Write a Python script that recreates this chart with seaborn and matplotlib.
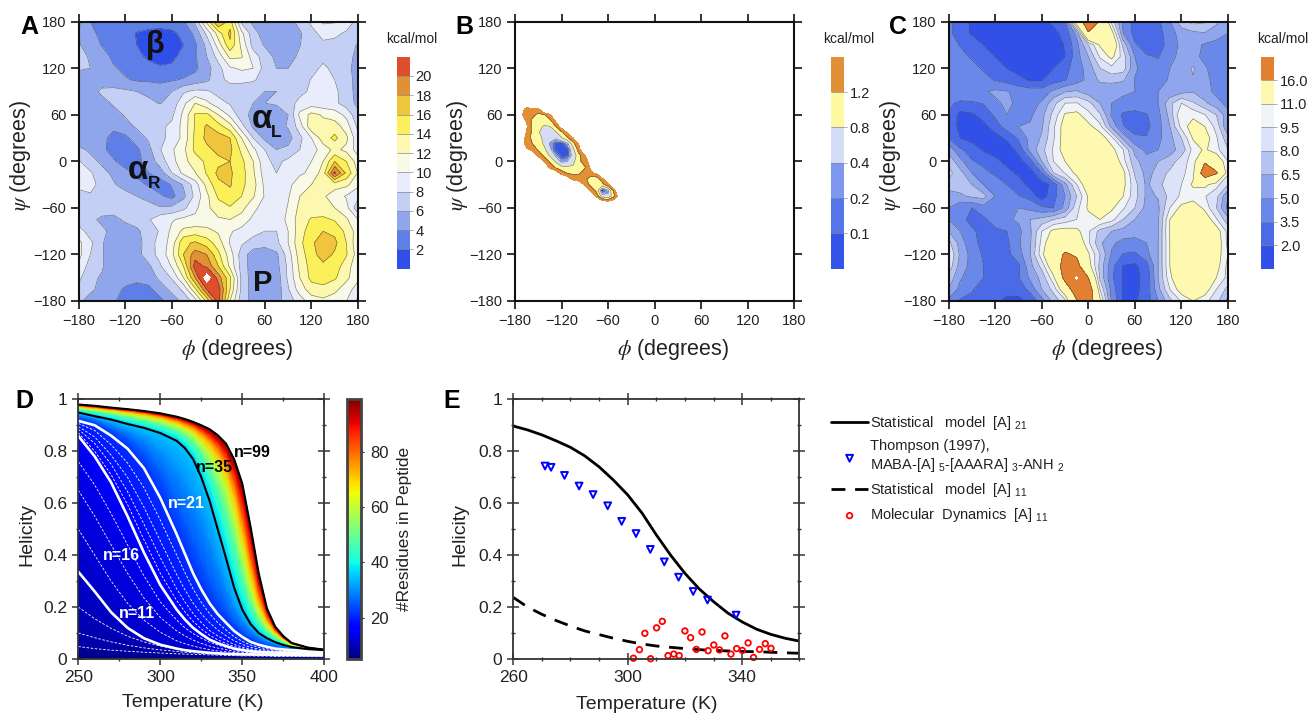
import numpy as np
import matplotlib
matplotlib.use("Agg")
import matplotlib.pyplot as plt
from matplotlib.cm import ScalarMappable
from matplotlib.colors import Normalize
from matplotlib.ticker import MultipleLocator
import seaborn as sns

# Ramachandran grids, every 15 degrees
phi_grid = list(range(-180, 181, 15))
psi_grid = list(range(180, -181, -15))

energy_a = [
    [6.5,4.0,3.7,3.5,3.3,3.0,3.0,3.0,3.3,3.8,6.5,12.5,18.5,15,7.5,5.5,4.8,4.5,5,6.8,8.2,10.4,10.2,8.8,7.5],
    [6,4.5,3.5,3,2.6,1.9,1.5,1.3,1.5,2.6,4.5,8.5,13,16.5,10.5,6.8,5,4.4,4.5,5.7,7.7,8.3,8.3,7.8,7.2],
    [6.2,5,3.9,3.2,2.6,2.0,1.5,1.2,1.3,2,3.7,6.5,11,15.5,11.5,7.2,5.8,4.4,4.4,5.9,7.5,7.8,7.6,7,5.8],
    [6.6,5.8,4.8,3.6,3,2.4,1.7,1.4,1.5,2.7,3.8,6,8.8,12.5,12.2,9,7,5.5,5,6.5,7.4,7.6,7.4,6.8,5.4],
    [6.2,6,4.9,4.2,3.6,3.1,2.6,2.2,2.4,2.9,3.6,5.2,7.3,9.7,10.3,10,7.2,6,6,7,7.5,8.3,7.6,6.6,5.2],
    [5.2,5.3,4.8,4.6,4.2,3.8,3.7,3.6,3.8,4.2,4.8,5.6,7.2,8.7,8.7,8.3,7,6.2,6.4,7.2,8.1,9,8,6.8,5.3],
    [4.8,5,6.5,6.7,6.4,6,5.6,5,6,7.7,8.5,8.3,7.4,6.4,6.3,6.3,6,6,6.6,7.4,8.4,9.5,8.5,6.8,5.4],
    [4.8,4.9,5.2,6.3,6.6,6.6,6.4,5.9,6.7,9.5,12,10.5,8.7,7.8,6.5,6,6,6.2,7,8.7,9,8.6,8.5,7,5.5],
    [4.4,4.6,4.9,5.2,6.2,6.8,7,7.4,7.6,10.5,14.2,14.5,12,9.5,6.8,5.4,5,5.1,6,10.5,12.6,11.8,11,9.5,6.5],
    [4.2,4.4,4.6,4.4,5.3,6.3,7,7.6,8.4,10.7,14.2,16.3,14.8,12.8,8.7,5.6,5,5.2,6.2,9,13.5,12.6,13,11,7.5],
    [4.2,4.5,4.5,3.4,3.5,5,6.3,7.5,8.6,10.6,14.5,16.5,17,16,12,8,5.5,4.6,5.2,7.5,10,13,14.5,12.5,8.5],
    [6.6,5.6,4.6,3,2.5,3.6,5.4,7.9,9.7,11.5,14.5,15.5,16.5,16.5,13.5,10.5,8,6,6.5,8,9,11,12.5,11.5,9],
    [8.2,6.7,5.6,4.3,3,3.5,4.7,7,9.2,11.5,12.8,14.5,15.5,16,14.5,12,8.5,7.5,8.5,8.8,10,12,16,14,11],
    [10.2,8.3,6.6,5.6,4.7,3.6,4,5,8,10.5,11.9,14.2,16.5,16.3,14.8,12.3,9,8,8.7,9.7,10.4,13,20.5,15.5,11.8],
    [8.5,8.5,7.5,6.2,5.2,4.6,3.8,3,4.2,6.2,9,12.6,15.5,16.2,14.5,12.8,9.5,8.4,9.5,11,12,12.5,12.8,12.5,10.5],
    [7.3,7.8,8,7.8,6.8,6,5.3,4.3,3.4,5.5,8.5,11.5,14.3,15.3,14,12.2,9.8,8.5,9.8,12,12.5,12.3,11,9.8,8.5],
    [6.9,6.9,7.2,7.3,8,7.5,6.8,6.2,6.5,7.5,9.5,11.5,13.2,13.8,12.6,10.6,9,8.3,10.2,12.5,13,12.5,12,10.7,6.5],
    [6.8,6.6,5.5,5.2,6.5,6.9,7.8,9.2,9.8,10.5,10.5,10.8,11.7,12,11.2,9.5,8.7,8.8,10.5,13,14.2,14.5,13.8,12.3,10],
    [9,7,6.5,5.3,4.6,5.6,7,8.2,10.5,12.5,13,12.6,11.7,10.2,9.4,8.7,8,8,10,13.2,15,16,15.5,13.5,11],
    [10.5,8.5,6.2,4.8,5.5,4.9,7.4,8.5,11,15.5,16.3,15,13,9.8,8.3,7.2,7,7.5,10,13.5,15.5,17.5,16.5,14,10.5],
    [10.7,8,6.3,4,4.3,5.2,7.2,8.6,11.5,16,19,18,14.5,11,7,5,4.5,5.6,9,13,15.2,17,15.7,14.2,11],
    [9.5,7.2,6.2,4.6,4.5,4.8,5.6,7.8,10.2,14,21,19.5,16,11.5,7.2,4.9,4.3,5.3,8.5,12.5,14.8,15.5,15,13,10.5],
    [8.5,6.4,5.8,4.8,4.6,4.6,4.9,6.5,8.2,12,18,24.5,19,14.5,7.5,4.9,4.2,4.8,8.4,12,14.6,14.8,14.3,12.5,10.5],
    [7.5,6.5,5.2,4.5,3.8,3.2,3.5,5,6.5,8.5,13.5,20,21,14,7.5,5,4.4,4.8,7.8,11,13,13.5,12.5,11,9],
    [6.5,5,4.5,4.2,3.3,3,3,3.5,5,6.5,9,14.5,21,12,6.8,5.5,5,5.2,7,9,11,11.5,11,10,7.5],
]

energy_c = [
    [4,2.3,1.9,1.6,1.6,1.6,1.6,1.6,1.7,2.3,3.4,13,19,15.5,9,4.6,2.9,2.7,3.2,4.8,7.5,8.5,8.2,6.7,5.2],
    [4,2.4,1.9,1.6,1.5,1.4,1.3,1.3,1.3,1.6,2.5,5.5,15.5,13,12,5,3,2.5,2.9,4.4,5.6,6.1,6.4,6,5],
    [4.2,3.4,2.6,2,1.7,1.4,1.2,1.2,1.2,1.4,2.1,4.5,8,11.2,14,7.5,3.7,2.7,2.6,4.3,5.3,5.6,4.8,4.3,4.1],
    [4.5,4,3.3,2.8,2,1.6,1.4,1.3,1.2,1.3,2,4.4,6.5,9.7,11.5,8.8,5,3.7,3.4,4.6,5.4,5.5,4.6,4.2,4.1],
    [4.6,4.5,4,3.3,2.7,2,1.6,1.5,1.6,2,3,4.3,5.6,8,9,8.7,5.3,4.1,4,5,5.6,6.7,5.2,4.3,4],
    [4.7,4.6,4.4,4,3.4,2.9,2.3,1.9,1.9,2.8,3.4,4.3,5.4,6.8,7,6.7,4.9,4.2,4.3,5.2,5.8,6.4,5.5,4.4,4],
    [4.6,4.3,4.6,4.8,5.3,5.1,4.6,4.2,4.2,5.3,6.4,6.7,5.7,5.5,5.3,5.2,5,4.8,5,5.5,6,6.4,5.6,4.6,4],
    [3.7,3.3,3.3,3.6,4.7,5.3,4.7,4.4,5.2,7.5,9.5,9.6,8.5,6.5,5,4.7,4.6,4.6,5,7.5,9.5,8.2,6.8,5.6,4.5],
    [3.4,1.5,1.8,2.6,3.8,5,4.9,4.7,6,8.5,11.2,11.5,10,8.2,4.8,3.2,2.9,3.4,4.6,7,11,10.5,9.6,8,5.5],
    [3.4,1.4,1.2,1.6,2.8,4.2,5,5.2,6.3,9.2,12,13.5,11.5,10,6,3.6,2.8,3.1,4.4,6.5,10,12,11,9,5],
    [3.5,2,1.4,1.2,1.4,2.3,3.7,5.5,6.7,9.3,12,13.5,13.5,12,10,6,3.8,3.6,4.6,6,8,11.2,12,9.7,7],
    [6,3.7,3,1.8,1.2,1.2,2.5,5.5,7.5,9.7,12,13.5,14,13,11.6,9.5,6,4.6,5,6,7,10,11.3,10,8],
    [7.5,5.5,3.6,3.2,2.5,1.5,1.4,3,6.5,9.5,11,13,14,14,13,10,7,5.6,6.5,7,9,10,15.5,13,9.5],
    [8.5,7,5,3.8,3.3,2.6,1.7,1.3,3.5,8,9.6,11.5,13.5,14.5,13.5,11.5,7.8,6,7,8.4,9,10.5,19,16.5,9.8],
    [7.5,7.3,6.5,5,4.2,3.5,2.8,1.5,1.3,2.5,6,9.4,12.5,14,13.5,11.5,8.5,6.2,7.5,9,9.5,11.3,11.5,10,8],
    [5.5,6.2,6.8,7,5,4,3.6,3,1.3,3,5,8,11.2,13,12,11,8.6,6.2,6.6,8.5,9.8,10,9.6,8.5,5],
    [5,3.8,3.5,4.4,4.8,5,5,4.6,3.8,3.5,5.5,9,11.3,12,11.3,9.7,8,6,6.2,9.5,11.5,12.5,10.5,8,4.5],
    [5,3.7,3.3,3.2,4.2,4.8,5.2,6.5,7,8,8.7,9.5,10.3,11,10,8,6.5,5.5,6.3,11,13,13.5,12.5,9.7,7],
    [6.5,5,3.6,3.3,3.2,3.5,4.6,6.2,9.5,11.5,11.8,11.5,9.7,7.5,6.5,6,5.5,5.4,6.4,11.2,14,14,14,12,9],
    [8.5,5.8,3.8,3.2,2.9,3.2,4.8,6.3,10,13,14,13,9.8,6.8,5.3,4.5,4.6,5,6.5,11,14,14.5,14.5,12.5,9],
    [9.5,6.2,4.4,3.3,2.9,3.1,4.3,6.5,10.5,14,16.5,15.5,11.3,8,4.8,3.4,3.2,4.5,6.5,11,14,15,14.8,12,9.5],
    [9,5.8,4.5,3.5,3,2.4,3.2,6,8.5,13,18,17.5,12,7.5,4,1.9,1.7,2.8,6.5,11,14,15,14.5,11.8,9],
    [7.5,5.2,4,3.5,3,3,3.4,5.3,7,10.5,17.5,22,16,7.7,3.8,1.9,1.7,2.4,6.5,10.5,13.5,14.5,13.5,11,9],
    [6.5,4.5,3.6,3,2.8,2.4,2.5,4,6.5,8.5,13,19,19,9.5,4.4,1.8,1.7,2.5,6,9.5,12,13,12,9.5,7.5],
    [4.5,3.3,3.2,2.8,2.3,1.7,1.7,2.3,4.4,7,9,15.5,19,11.5,4.8,1.9,1.8,2.8,5,7.5,9.7,11,10,8.5,6],
]

# panel B only has data in a small window, 7.5 degree steps
phi_b = [-172.5,-165,-157.5,-150,-142.5,-135,-127.5,-120,-112.5,-105,-97.5,-90,-82.5,-75,-67.5,-60,-52.5,-45]
psi_b = [75,67.5,60,52.5,45,37.5,30,22.5,15,7.5,0,-7.5,-15,-22.5,-30,-37.5,-45,-52.5]
energy_b = [
    [2.5,2.5,2.5,2.5,2.5,2.5,2.5,2.5,2.5,2.5,2.5,2.5,2.5,2.5,2.5,2.5,2.5,2.5],
    [1.9,1.4,1.45,1.5,2.5,2.5,2.5,2.5,2.5,2.5,2.5,2.5,2.5,2.5,2.5,2.5,2.5,2.5],
    [1.7,1.4,1.3,1.1,1.15,1.5,2.5,2.5,2.5,2.5,2.5,2.5,2.5,2.5,2.5,2.5,2.5,2.5],
    [2.2,1.5,1.1,1.0,1.0,1.1,1.7,2.5,2.5,2.5,2.5,2.5,2.5,2.5,2.5,2.5,2.5,2.5],
    [2.5,1.7,1.05,.95,.75,.8,1.15,1.9,2.5,2.5,2.5,2.5,2.5,2.5,2.5,2.5,2.5,2.5],
    [2.5,1.55,1.1,.85,.6,.75,.75,1.1,1.7,2.5,2.5,2.5,2.5,2.5,2.5,2.5,2.5,2.5],
    [2,1.4,1.1,.95,.7,.55,.45,.75,1.1,1.6,2.5,2.5,2.5,2.5,2.5,2.5,2.5,2.5],
    [2,1.4,1.2,1.0,.75,.35,.08,.06,.3,1.0,1.7,2.5,2.5,2.5,2.5,2.5,2.5,2.5],
    [2.5,1.7,1.5,1.15,.9,.5,.05,.04,.08,.7,1.4,2.5,2.5,2.5,2.5,2.5,2.5,2.5],
    [2.5,2.5,2.2,1.5,1.1,.75,.35,.06,.09,.55,1.05,1.6,2.5,2.5,2.5,2.5,2.5,2.5],
    [2.5,2.5,2.5,2.2,1.55,1.1,.75,.3,.4,.7,1.1,1.4,1.8,2.5,2.5,2.5,2.5,2.5],
    [2.5,2.5,2.5,2.5,2.2,1.5,1.1,.9,.85,.85,1.0,1.15,1.7,2.5,2.5,2.5,2.5,2.5],
    [2.5,2.5,2.5,2.5,2.5,2.2,1.9,1.4,1.15,1.1,1.15,1.35,1.5,1.7,2.5,2.5,2.5,2.5],
    [2.5,2.5,2.5,2.5,2.5,2.5,2.5,2.2,1.9,1.45,1.4,1.3,1.0,.95,1.5,2.5,2.5,2.5],
    [2.5,2.5,2.5,2.5,2.5,2.5,2.5,2.5,2.5,2.2,1.9,1.55,1.05,.85,1.0,1.5,2.5,2.5],
    [2.5,2.5,2.5,2.5,2.5,2.5,2.5,2.5,2.5,2.5,2.5,2.2,1.5,1.05,.05,.35,1.3,2.5],
    [2.5,2.5,2.5,2.5,2.5,2.5,2.5,2.5,2.5,2.5,2.5,2.5,2.2,1.5,.55,.45,1.1,2],
    [2.5,2.5,2.5,2.5,2.5,2.5,2.5,2.5,2.5,2.5,2.5,2.5,2.5,2.5,2,1.8,2,2.5],
]

levels_a = [0, 2, 4, 6, 8, 10, 12, 14, 16, 18, 20, 22]
colors_a = ["#2f50e8", "#5f7fe8", "#8fa5ec", "#c3cff5", "#e9edfb", "#f8f9e6",
            "#fdf8b0", "#fbf05a", "#efc53e", "#e29036", "#dd4f2c"]
labels_a = ["2", "4", "6", "8", "10", "12", "14", "16", "18", "20"]

levels_b = [0, 0.1, 0.2, 0.4, 0.8, 1.2, 1.6]
colors_b = ["#3354e8", "#5575ea", "#7f97ee", "#d4dcf7", "#fdf9a0", "#e29036"]
labels_b = ["0.1", "0.2", "0.4", "0.8", "1.2"]

levels_c = [0, 2, 3.5, 5, 6.5, 8, 9.5, 11, 16, 21]
colors_c = ["#3050e8", "#4a6ae8", "#6a88ea", "#8fa5ee", "#b5c3f3", "#dbe2fa",
            "#f1f4f6", "#fdf9b0", "#e08030"]
labels_c = ["2.0", "3.5", "5.0", "6.5", "8.0", "9.5", "11.0", "16.0"]

# helicity vs temperature for peptides of n residues
temp_d = [250,260,270,280,290,300,310,315,320,325,330,335,340,345,350,355,360,365,370,375,380,390,400]
n_res = [5,8,9,10,11,12,13,14,16,17,18,19,20,21,25,30,35,40,50,60,70,80,90,99]
helicity_d = [
    [.003,.003,.003,.003,.003,.003,.003,.003,.003,.003,.003,.003,.003,.003,.003,.003,.003,.003,.003,.003,.003,.003,.003],
    [.048,.04,.034,.03,.026,.023,.02,.019,.018,.017,.016,.015,.014,.013,.012,.012,.011,.011,.01,.01,.01,.009,.009],
    [.10,.082,.066,.053,.043,.035,.029,.026,.024,.022,.02,.018,.017,.016,.015,.014,.013,.013,.012,.012,.012,.011,.011],
    [.20,.155,.118,.088,.066,.05,.038,.034,.03,.027,.024,.022,.02,.018,.017,.016,.015,.015,.014,.014,.013,.013,.012],
    [.336,.26,.18,.12,.08,.055,.04,.034,.03,.027,.024,.022,.02,.019,.018,.018,.017,.017,.016,.016,.016,.015,.015],
    [.50,.40,.30,.215,.15,.103,.07,.059,.05,.042,.036,.031,.028,.025,.022,.021,.02,.019,.018,.018,.017,.016,.016],
    [.65,.55,.44,.33,.235,.16,.108,.089,.073,.06,.05,.042,.036,.03,.026,.024,.022,.021,.02,.02,.019,.018,.017],
    [.76,.67,.56,.44,.32,.22,.15,.12,.098,.08,.065,.054,.045,.037,.031,.027,.025,.023,.022,.022,.021,.02,.019],
    [.859,.78,.68,.55,.41,.285,.19,.152,.12,.096,.075,.061,.05,.04,.034,.03,.027,.026,.025,.025,.024,.023,.022],
    [.872,.80,.71,.595,.46,.33,.225,.182,.145,.116,.092,.074,.06,.048,.04,.034,.03,.028,.026,.026,.025,.024,.023],
    [.885,.83,.75,.645,.52,.39,.27,.22,.175,.14,.11,.089,.072,.056,.046,.038,.033,.03,.028,.027,.026,.025,.024],
    [.895,.855,.785,.70,.585,.455,.325,.267,.215,.174,.14,.112,.09,.07,.056,.045,.038,.034,.031,.029,.028,.026,.025],
    [.907,.88,.825,.755,.66,.535,.40,.333,.27,.218,.175,.14,.112,.086,.068,.054,.045,.039,.035,.032,.03,.028,.027],
    [.917,.90,.86,.81,.735,.62,.48,.405,.33,.268,.215,.173,.14,.108,.085,.066,.055,.047,.04,.037,.034,.031,.03],
    [.93,.915,.885,.85,.795,.71,.59,.52,.45,.375,.30,.24,.19,.145,.11,.087,.07,.057,.048,.042,.038,.033,.031],
    [.94,.927,.905,.88,.85,.80,.73,.68,.62,.545,.46,.37,.28,.20,.15,.113,.088,.07,.058,.049,.042,.036,.033],
    [.949,.935,.922,.905,.89,.87,.84,.812,.77,.70,.61,.50,.39,.275,.19,.135,.10,.08,.065,.054,.046,.038,.034],
    [.955,.945,.932,.918,.902,.885,.86,.835,.80,.745,.675,.58,.47,.34,.24,.165,.12,.092,.072,.059,.049,.039,.034],
    [.963,.955,.945,.933,.92,.905,.882,.863,.84,.80,.745,.67,.58,.46,.33,.22,.15,.108,.083,.066,.053,.04,.035],
    [.968,.96,.952,.942,.93,.918,.898,.882,.862,.83,.79,.735,.66,.55,.41,.27,.18,.125,.093,.072,.056,.041,.035],
    [.972,.965,.958,.95,.94,.928,.91,.896,.88,.855,.825,.78,.72,.62,.48,.33,.21,.142,.103,.077,.058,.042,.036],
    [.975,.969,.962,.955,.947,.936,.92,.908,.895,.875,.85,.815,.765,.68,.55,.39,.25,.16,.11,.08,.06,.043,.036],
    [.978,.972,.965,.959,.951,.941,.927,.917,.905,.888,.868,.84,.80,.73,.62,.46,.29,.18,.118,.084,.061,.044,.036],
    [.98,.975,.968,.962,.955,.946,.933,.924,.913,.90,.885,.862,.83,.77,.675,.51,.33,.195,.125,.088,.062,.044,.036],
]
dashed_n = [8, 9, 10, 12, 13, 14, 17, 18, 19, 20]
white_n = [11, 16, 21]
black_n = [35, 99]

# panel E
temp_e = [260,265,270,275,280,285,290,295,300,305,310,315,320,325,330,335,340,345,350,355,360]
model_21 = [.897,.882,.863,.84,.815,.782,.74,.689,.632,.562,.478,.40,.33,.27,.221,.177,.143,.115,.095,.08,.069]
model_11 = [.237,.20,.172,.148,.127,.108,.094,.08,.068,.058,.05,.045,.04,.036,.033,.031,.029,.028,.026,.024,.022]
thompson_t = [271.1,273.2,277.9,283.0,287.9,293.0,297.9,302.9,307.9,312.8,317.8,322.9,327.9,337.9]
thompson_h = [.743,.738,.707,.666,.633,.590,.530,.483,.422,.374,.315,.260,.227,.169]
md_t = [302,304.1,306,308,310.1,312.1,314.1,316.1,318,320,322,324,326,328.1,330.1,332.1,334,336.1,338.1,340.1,342.1,344,346.1,348.1,350.1]
md_h = [.003,.036,.099,.001,.12,.145,.013,.019,.013,.108,.082,.037,.104,.032,.054,.035,.089,.019,.04,.033,.062,.006,.037,.059,.041]

W, H = 1309, 714
sns.set_theme(style="ticks")
plt.rcParams["font.family"] = ["Liberation Sans", "DejaVu Sans"]
plt.rcParams["mathtext.fontset"] = "stix"
plt.rcParams["mathtext.default"] = "regular"
plt.rcParams["axes.unicode_minus"] = True

fig = plt.figure(figsize=(W / 100, H / 100), dpi=100)


def px_axes(left, top, right, bottom):
    return fig.add_axes([left / W, 1 - bottom / H, (right - left) / W, (bottom - top) / H])


def rama_panel(left, cbar_left, unit_x, phi, psi, z, levels, colors, labels, letter, letter_x):
    ax = px_axes(left, 21.7, left + 279.3, 301)
    cs = ax.contourf(phi, psi, z, levels=levels, colors=colors)
    ax.contour(phi, psi, z, levels=levels[1:-1], colors="#333333", linewidths=0.45, alpha=0.65)
    ax.set_xlim(-180, 180)
    ax.set_ylim(-180, 180)
    ticks = [-180, -120, -60, 0, 60, 120, 180]
    names = ["\u2212180", "\u2212120", "\u221260", "0", "60", "120", "180"]
    ax.set_xticks(ticks, names)
    ax.set_yticks(ticks, names)
    ax.tick_params(direction="out", length=6, width=1.2, labelsize=10.5, color="#111111",
                   top=True, right=True, pad=3, labelcolor="#222222")
    for s in ax.spines.values():
        s.set_linewidth(1.5)
        s.set_color("#111111")
        s.set_zorder(5)
    ax.set_xlabel(r"$\mathit{\phi}$ (degrees)", fontsize=15.5, color="#222222", va="center")
    ax.xaxis.set_label_coords(0.567, -0.172)
    ax.set_ylabel(r"$\mathit{\psi}$ (degrees)", fontsize=15.5, color="#222222", va="center")
    ax.yaxis.set_label_coords(-0.207, 0.52)

    cax = px_axes(cbar_left, 56.7, cbar_left + 13.3, 268.7)
    cb = fig.colorbar(cs, cax=cax, ticks=levels[1:-1], drawedges=True)
    cb.ax.set_yticklabels(labels)
    cb.outline.set_visible(False)
    cb.dividers.set_color("#888888")
    cb.dividers.set_linewidth(0.5)
    cb.ax.tick_params(length=2, width=0.5, color="#888888", labelsize=10.5, pad=2, labelcolor="#222222")
    fig.text(unit_x / W, 1 - 39 / H, "kcal/mol", fontsize=10, ha="center", va="center", color="#222222")
    fig.text(letter_x / W, 1 - 27 / H, letter, fontsize=18, fontweight="bold", ha="left", va="center", color="black")
    return ax


ax_a = rama_panel(78.7, 396.7, 412, phi_grid, psi_grid, energy_a, levels_a, colors_a, labels_a, "A", 20)
ax_b = rama_panel(515, 831, 849, phi_b, psi_b, energy_b, levels_b, colors_b, labels_b, "B", 455)
ax_c = rama_panel(948.7, 1261, 1283, phi_grid, psi_grid, energy_c, levels_c, colors_c, labels_c, "C", 889)

basin_kw = dict(color="#111111", fontweight="bold", ha="center", va="center")
ax_a.text(-81, 150, "\u03b2", fontsize=22, **basin_kw)
ax_a.text(-103, -12, "\u03b1", fontsize=24, **basin_kw)
ax_a.text(-83, -29, "R", fontsize=12.5, **basin_kw)
ax_a.text(56, 54, "\u03b1", fontsize=24, **basin_kw)
ax_a.text(75, 37, "L", fontsize=12.5, **basin_kw)
ax_a.text(57, -157, "P", fontsize=21, **basin_kw)

# D: gradient between the helicity curves
ax_d = px_axes(78.3, 399.3, 324.3, 659)
t_mesh, n_mesh = np.meshgrid(temp_d, n_res)
ax_d.pcolormesh(t_mesh, np.array(helicity_d), n_mesh, shading="gouraud", cmap="jet", vmin=5, vmax=99)
for n, row in zip(n_res, helicity_d):
    if n in dashed_n:
        sns.lineplot(x=temp_d, y=row, color="white", linewidth=0.6, linestyle=(0, (3, 2)), ax=ax_d)
    elif n in white_n:
        sns.lineplot(x=temp_d, y=row, color="white", linewidth=1.9, ax=ax_d)
    elif n in black_n:
        sns.lineplot(x=temp_d, y=row, color="black", linewidth=1.5, ax=ax_d)
ax_d.set_xlim(250, 400)
ax_d.set_ylim(0, 1)
ax_d.set_xticks([250, 300, 350, 400])
ax_d.set_yticks([0, 0.2, 0.4, 0.6, 0.8, 1], ["0", "0.2", "0.4", "0.6", "0.8", "1"])
ax_d.text(355.9, 0.797, "n=99", fontsize=11.5, fontweight="bold", color="black", ha="center", va="center")
ax_d.text(333.3, 0.739, "n=35", fontsize=11.5, fontweight="bold", color="black", ha="center", va="center")
ax_d.text(315.6, 0.597, "n=21", fontsize=11.5, fontweight="bold", color="white", ha="center", va="center")
ax_d.text(276, 0.397, "n=16", fontsize=11.5, fontweight="bold", color="white", ha="center", va="center")
ax_d.text(285.8, 0.177, "n=11", fontsize=11.5, fontweight="bold", color="white", ha="center", va="center")

cax_d = px_axes(346.7, 399.3, 360.7, 659)
cb_d = fig.colorbar(ScalarMappable(Normalize(5, 99), "jet"), cax=cax_d, ticks=[20, 40, 60, 80])
cb_d.outline.set_linewidth(2)
cb_d.outline.set_edgecolor("#444444")
cb_d.ax.tick_params(length=2, width=0.8, labelsize=12, pad=5, labelcolor="#222222")
cb_d.set_label("#Residues in Peptide", fontsize=12.5, color="#222222", labelpad=6)

# E
ax_e = px_axes(513.3, 399.3, 799.3, 659)
sns.lineplot(x=temp_e, y=model_21, color="black", linewidth=2, label="Statistical   model  [A] $_{21}$", ax=ax_e)
sns.scatterplot(x=thompson_t, y=thompson_h, marker="v", s=24, facecolor="none", edgecolor="blue", linewidth=1.4,
                clip_on=False, zorder=4, label="Thompson (1997),\nMABA-[A] $_{5}$-[AAARA] $_{3}$-ANH $_{2}$", ax=ax_e)
sns.lineplot(x=temp_e, y=model_11, color="black", linewidth=2, linestyle=(0, (5, 3.5)),
             label="Statistical   model  [A] $_{11}$", ax=ax_e)
sns.scatterplot(x=md_t, y=md_h, marker="o", s=16, facecolor="none", edgecolor="red", linewidth=1.3,
                clip_on=False, zorder=4, label="Molecular  Dynamics  [A] $_{11}$", ax=ax_e)
ax_e.set_xlim(260, 360)
ax_e.set_ylim(0, 1)
ax_e.set_xticks([260, 300, 340])
ax_e.set_yticks([0, 0.2, 0.4, 0.6, 0.8, 1], ["0", "0.2", "0.4", "0.6", "0.8", "1"])
ax_e.legend(loc="upper left", bbox_to_anchor=(831 / W, 1 - 414 / H), bbox_transform=fig.transFigure,
            frameon=False, fontsize=10.5, handlelength=2.55, handletextpad=0.12, labelspacing=0.5,
            borderpad=0, borderaxespad=0, scatterpoints=1, labelcolor="#222222")

for ax, minor_x in ((ax_d, 25), (ax_e, 10)):
    ax.xaxis.set_minor_locator(MultipleLocator(minor_x))
    ax.yaxis.set_minor_locator(MultipleLocator(0.1))
    ax.tick_params(which="major", direction="inout", length=8, width=1.1, labelsize=12.5,
                   top=True, right=True, pad=4, labelcolor="#222222", color="#333333")
    ax.tick_params(which="minor", direction="inout", length=3.5, width=1, top=True, right=True, color="#333333")
    for s in ax.spines.values():
        s.set_linewidth(1.3)
        s.set_color("#333333")
        s.set_zorder(5)
    ax.set_xlabel("Temperature (K)", fontsize=14, color="#222222", va="center")
    ax.set_ylabel("Helicity", fontsize=14, color="#222222", va="center")
ax_d.xaxis.set_label_coords(0.466, -0.166)
ax_d.yaxis.set_label_coords(-0.208, 0.48)
ax_e.xaxis.set_label_coords(0.467, -0.177)
ax_e.yaxis.set_label_coords(-0.186, 0.48)

fig.text(15 / W, 1 - 401 / H, "D", fontsize=18, fontweight="bold", ha="left", va="center", color="black")
fig.text(443 / W, 1 - 401 / H, "E", fontsize=18, fontweight="bold", ha="left", va="center", color="black")

fig.savefig("out.png", dpi=100)
